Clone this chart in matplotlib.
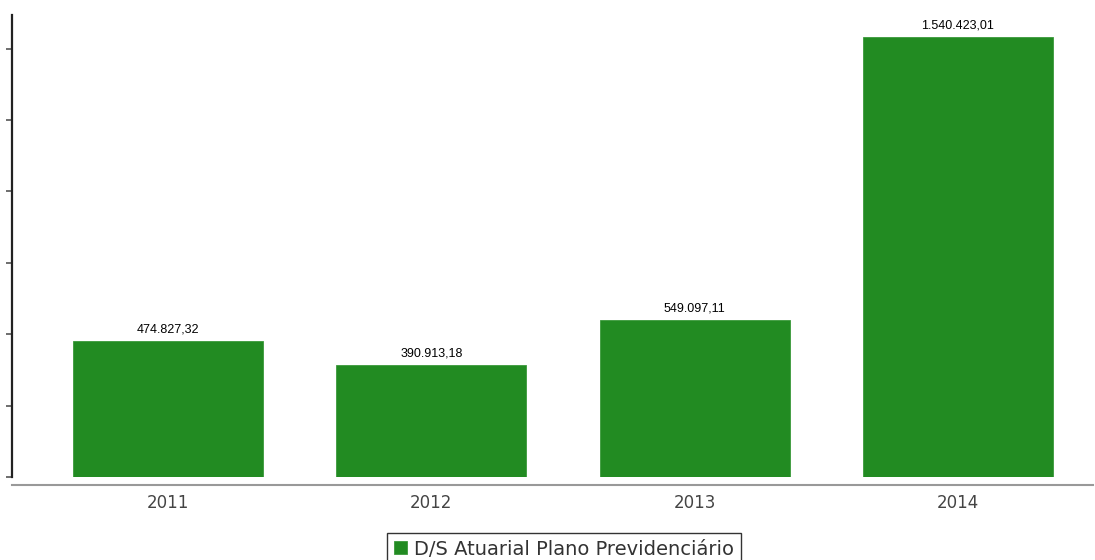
import matplotlib
matplotlib.use("Agg")
import matplotlib.pyplot as plt
from matplotlib.ticker import FixedLocator, NullFormatter

years = ["2011", "2012", "2013", "2014"]
values = [474827.32, 390913.18, 549097.11, 1540423.01]
labels = ["474.827,32", "390.913,18", "549.097,11", "1.540.423,01"]
series_name = "D/S Atuarial Plano Previdenciário"
yticks = [0, 250000, 500000, 750000, 1000000, 1250000, 1500000]

W, H = 1095, 560
fig = plt.figure(figsize=(W / 100, H / 100), dpi=100)
ax = fig.add_axes([12 / W, 83 / H, (1093 - 12) / W, (477 - 15) / H])

x = list(range(len(years)))
bars = ax.bar(x, values, width=190 / 263.3, color="#228B22", edgecolor="#3a9a3a",
              linewidth=0.6, label=series_name)
ax.set_xlim(-0.593, 3.513)
ax.set_ylim(0, 1617444)

for xi, v, lab in zip(x, values, labels):
    ax.annotate(lab, (xi, v), xytext=(0, 4), textcoords="offset points",
                ha="center", va="bottom", fontsize=9, color="black",
                family="Liberation Sans")

for s in ["top", "right"]:
    ax.spines[s].set_visible(False)
ax.spines["left"].set_color("#222222")
ax.spines["left"].set_linewidth(1.6)
ax.spines["bottom"].set_position(("outward", 6))
ax.spines["bottom"].set_color("#999999")
ax.spines["bottom"].set_linewidth(1.5)

ax.yaxis.set_major_locator(FixedLocator(yticks))
ax.yaxis.set_major_formatter(NullFormatter())
ax.tick_params(axis="y", direction="out", length=4, width=1.2, color="#555555")

ax.set_xticks(x)
ax.set_xticklabels(years, fontsize=12, color="#444444", family="DejaVu Sans")
ax.tick_params(axis="x", length=0, pad=6)

leg = fig.legend(handles=[bars], labels=[series_name], loc="upper center",
                 bbox_to_anchor=(564 / W, 1 - 533 / H), frameon=True,
                 fancybox=False, edgecolor="black", fontsize=14,
                 handlelength=0.65, handleheight=0.65, handletextpad=0.35,
                 borderpad=0.35, borderaxespad=0)
for t in leg.get_texts():
    t.set_color("#333333")
leg.get_frame().set_linewidth(1.0)

fig.savefig("out.png", dpi=100, facecolor="white")
